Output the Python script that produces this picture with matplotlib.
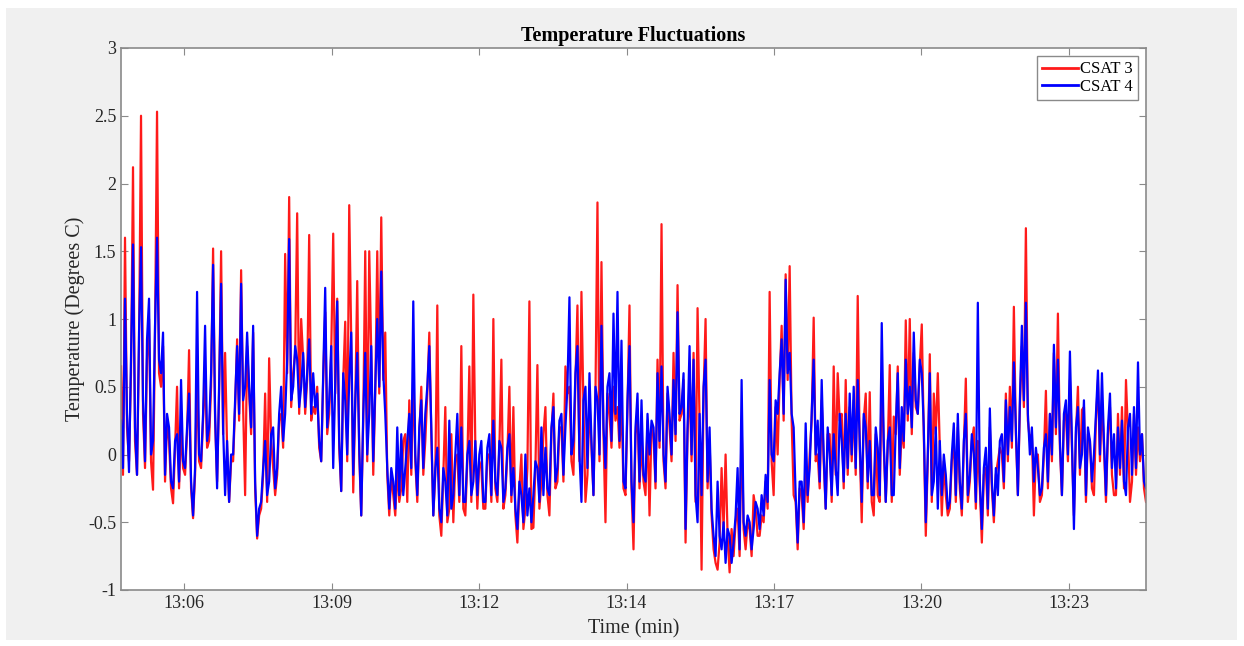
import matplotlib
matplotlib.use("Agg")
from matplotlib import pyplot as plt
import matplotlib.dates as mdates
from matplotlib.patches import Rectangle
import pandas as pd

# temperature fluctuation, one sample every ~2.3 s starting 13:05:12
csat3 = [
    0.65, -0.15, 1.6, 0.2, -0.05, 0.6, 2.12, 0.1, -0.15, 0.8,
    2.5, 0.3, -0.1, 0.7, 1.0, -0.05, -0.26, 0.9, 2.53, 0.6,
    0.5, 0.8, -0.2, 0.25, 0.1, -0.25, -0.36, 0.05, 0.5, -0.25,
    0.2, -0.1, -0.15, 0.15, 0.77, -0.25, -0.47, -0.15, 0.6, -0.05,
    -0.1, 0.25, 0.6, 0.05, 0.1, 0.5, 1.52, 0.25, -0.2, 0.45,
    1.5, 0.15, 0.75, 0.05, -0.35, -0.05, -0.05, 0.35, 0.85, 0.25,
    1.36, 0.35, -0.3, 0.8, 0.45, 0.15, 0.9, -0.25, -0.62, -0.45,
    -0.4, -0.15, 0.45, -0.35, 0.71, 0.1, -0.1, -0.3, -0.15, 0.25,
    0.3, 0.05, 1.48, 0.6, 1.9, 0.35, 0.6, 0.75, 1.78, 0.3,
    1.0, 0.7, 0.3, 0.55, 1.62, 0.25, 0.35, 0.3, 0.5, 0.05,
    -0.05, 0.55, 1.05, 0.15, 0.3, 0.75, 1.63, 0.45, 1.15, 0.05,
    -0.27, 0.55, 0.98, -0.05, 1.84, 0.85, -0.28, 0.35, 1.28, 0.0,
    -0.45, 0.25, 1.5, -0.05, 1.5, 0.75, -0.15, 0.45, 1.5, 0.45,
    1.75, 0.55, 0.9, -0.15, -0.45, -0.15, -0.3, -0.45, -0.1, -0.35,
    -0.25, 0.1, 0.15, -0.35, 0.4, -0.15, 0.6, -0.05, -0.35, 0.15,
    0.5, -0.15, 0.1, 0.45, 0.9, 0.15, -0.45, -0.15, 1.1, -0.45,
    -0.6, -0.15, 0.35, -0.5, -0.4, 0.15, -0.5, -0.05, 0.0, -0.35,
    0.8, -0.4, -0.45, -0.05, 0.65, -0.35, 1.18, 0.05, -0.4, -0.05,
    -0.1, -0.4, -0.4, 0.0, 0.0, -0.35, 1.0, -0.25, -0.35, 0.05,
    0.7, -0.4, -0.3, 0.0, 0.5, -0.35, 0.35, -0.45, -0.65, -0.25,
    0.0, -0.55, -0.4, -0.1, 1.13, -0.55, -0.54, -0.1, 0.66, -0.4,
    -0.2, 0.15, 0.35, -0.3, -0.45, 0.15, 0.45, -0.25, -0.2, 0.2,
    0.2, -0.2, 0.65, 0.45, 0.5, -0.05, -0.15, 0.55, 1.1, -0.05,
    1.2, 0.35, -0.35, -0.15, 0.4, 0.05, -0.3, 0.45, 1.86, -0.05,
    1.42, 0.15, -0.5, 0.45, 0.3, 0.05, 0.5, 0.25, 0.35, 0.05,
    0.4, -0.25, -0.3, 0.35, 1.1, -0.25, -0.7, 0.15, 0.3, -0.25,
    0.1, -0.2, -0.3, 0.25, -0.45, 0.2, 0.15, -0.25, 0.7, 0.05,
    1.7, -0.05, -0.25, 0.45, 0.2, -0.05, 0.75, 0.1, 1.25, 0.25,
    0.3, 0.55, -0.65, 0.15, 0.55, -0.05, 0.75, -0.35, 1.08, 0.25,
    -0.85, 0.45, 1.0, -0.25, 0.1, -0.45, -0.7, -0.8, -0.85, -0.65,
    -0.1, -0.55, 0.0, -0.6, -0.87, -0.55, -0.75, -0.5, -0.4, -0.75,
    0.25, -0.55, -0.7, -0.5, -0.55, -0.75, -0.3, -0.4, -0.6, -0.6,
    -0.45, -0.5, -0.2, -0.4, 1.2, -0.05, -0.3, 0.35, 0.0, 0.55,
    0.95, 0.25, 1.33, 0.55, 1.39, 0.25, -0.3, -0.35, -0.7, -0.25,
    -0.3, -0.55, -0.1, -0.35, 0.0, 0.25, 1.01, -0.05, 0.0, -0.25,
    0.4, -0.05, -0.4, 0.15, 0.15, -0.35, 0.65, -0.15, 0.6, 0.25,
    0.3, -0.25, 0.55, -0.15, 0.35, -0.05, 0.4, -0.15, 1.17, 0.05,
    -0.5, 0.25, 0.45, -0.25, 0.46, -0.35, -0.45, 0.15, -0.3, -0.35,
    0.6, 0.05, -0.35, 0.05, 0.66, -0.35, 0.28, 0.15, 0.65, -0.15,
    0.2, 0.05, 0.99, 0.25, 1.0, 0.15, 0.75, 0.35, 0.3, 0.65,
    0.96, 0.15, -0.6, -0.05, 0.74, -0.35, 0.45, 0.15, 0.6, 0.05,
    -0.45, -0.05, -0.3, -0.45, -0.4, -0.05, 0.1, -0.35, 0.2, -0.25,
    -0.45, 0.05, 0.56, -0.35, -0.2, 0.1, 0.2, -0.4, 0.1, -0.25,
    -0.65, -0.15, -0.1, -0.45, 0.2, -0.25, -0.5, -0.15, -0.05, 0.05,
    0.0, -0.25, 0.45, -0.05, 0.5, 0.05, 1.09, 0.15, -0.3, 0.35,
    0.8, 0.35, 1.67, 0.25, 0.1, 0.15, -0.45, 0.0, 0.0, -0.35,
    -0.3, 0.0, 0.47, -0.25, 0.3, -0.05, 0.75, 0.15, 1.04, 0.05,
    -0.3, 0.25, 0.3, -0.05, 0.55, 0.05, -0.45, 0.15, 0.5, -0.15,
    0.33, 0.35, -0.35, 0.15, 0.1, -0.25, -0.3, 0.25, 0.55, -0.05,
    0.4, 0.05, -0.35, 0.15, 0.35, -0.15, -0.3, -0.3, 0.3, -0.15,
    0.35, -0.25, 0.55, 0.15, -0.35, -0.2, 0.3, -0.15, 0.2, -0.05,
    0.15, -0.25, -0.35,
]
csat4 = [
    0.25, -0.1, 1.15, 0.3, -0.13, 0.7, 1.55, 0.2, -0.15, 0.9,
    1.53, 0.4, -0.05, 0.85, 1.15, 0.0, 0.1, 0.95, 1.6, 0.7,
    0.6, 0.9, -0.15, 0.3, 0.2, -0.2, -0.25, 0.1, 0.15, -0.2,
    0.55, -0.05, -0.1, 0.2, 0.45, -0.2, -0.45, -0.1, 1.2, 0.0,
    -0.05, 0.3, 0.95, 0.1, 0.2, 0.6, 1.4, 0.3, -0.25, 0.5,
    1.26, 0.2, -0.3, 0.1, -0.35, 0.0, 0.0, 0.4, 0.8, 0.3,
    1.26, 0.4, 0.5, 0.9, 0.5, 0.2, 0.95, -0.2, -0.6, -0.4,
    -0.35, -0.1, 0.1, -0.3, -0.2, 0.15, 0.2, -0.25, -0.1, 0.3,
    0.5, 0.1, 0.3, 0.7, 1.59, 0.4, 0.5, 0.8, 0.7, 0.35,
    0.5, 0.75, 0.35, 0.6, 0.85, 0.3, 0.6, 0.35, 0.45, 0.1,
    -0.05, 0.6, 1.23, 0.2, 0.4, 0.8, -0.1, 0.5, 1.13, 0.1,
    -0.27, 0.6, 0.4, 0.0, 0.55, 0.9, -0.15, 0.4, 0.75, 0.05,
    -0.45, 0.3, 0.75, 0.0, 0.3, 0.8, -0.05, 0.5, 1.0, 0.5,
    1.35, 0.6, 0.3, -0.1, -0.4, -0.1, -0.2, -0.4, 0.2, -0.3,
    0.15, -0.3, -0.1, 0.1, 0.3, -0.1, 1.13, 0.0, -0.3, 0.2,
    0.4, -0.1, 0.3, 0.5, 0.8, 0.2, -0.45, -0.1, 0.05, -0.4,
    -0.5, -0.1, -0.2, -0.45, 0.25, -0.4, -0.3, 0.0, 0.3, -0.3,
    0.2, -0.35, -0.35, 0.0, 0.1, -0.3, -0.2, 0.1, -0.3, 0.0,
    0.1, -0.35, -0.35, 0.05, 0.15, -0.3, 0.25, -0.2, -0.3, 0.1,
    0.05, -0.35, -0.25, 0.05, 0.15, -0.3, -0.1, -0.4, -0.55, -0.2,
    -0.3, -0.5, 0.0, -0.45, -0.25, -0.5, -0.3, -0.05, -0.1, -0.35,
    0.2, -0.3, 0.05, -0.25, -0.3, 0.2, 0.35, -0.2, -0.1, 0.25,
    0.3, -0.15, 0.2, 0.5, 1.16, 0.0, 0.1, 0.6, 0.8, 0.0,
    -0.35, 0.4, 0.5, -0.1, 0.6, 0.1, -0.3, 0.5, 0.4, 0.0,
    0.95, 0.2, -0.1, 0.5, 0.6, 0.1, 1.04, 0.3, 1.2, 0.1,
    0.84, -0.2, -0.25, 0.4, 0.8, -0.2, -0.5, 0.2, 0.45, -0.2,
    0.4, -0.15, -0.2, 0.3, 0.0, 0.25, 0.2, -0.2, 0.6, 0.1,
    0.65, 0.0, -0.2, 0.5, 0.3, 0.0, 0.55, 0.15, 1.05, 0.3,
    0.35, 0.6, -0.55, 0.2, 0.8, 0.0, 0.7, -0.3, -0.5, 0.3,
    -0.3, 0.5, 0.7, -0.2, 0.2, -0.4, -0.6, -0.75, -0.2, -0.6,
    -0.7, -0.5, -0.8, -0.55, -0.6, -0.8, -0.65, -0.45, -0.1, -0.7,
    0.55, -0.5, -0.6, -0.45, -0.5, -0.7, -0.55, -0.35, -0.4, -0.55,
    -0.3, -0.45, -0.15, -0.35, 0.55, 0.0, -0.05, 0.4, 0.3, 0.6,
    0.85, 0.3, 1.29, 0.6, 0.75, 0.3, 0.2, -0.3, -0.65, -0.2,
    -0.2, -0.5, 0.23, -0.3, -0.1, 0.3, 0.7, 0.0, 0.25, -0.2,
    0.55, 0.0, -0.4, 0.2, 0.0, -0.3, 0.15, -0.1, -0.3, 0.3,
    0.1, -0.2, 0.3, -0.1, 0.45, 0.0, 0.5, -0.1, 0.55, 0.1,
    -0.35, 0.3, 0.2, -0.2, 0.1, -0.3, -0.3, 0.2, 0.05, -0.3,
    0.97, 0.1, -0.35, 0.1, 0.2, -0.3, -0.3, 0.2, 0.6, -0.1,
    0.35, 0.1, 0.7, 0.3, 0.5, 0.2, 0.9, 0.4, 0.3, 0.7,
    0.6, 0.2, -0.5, 0.0, 0.6, -0.3, -0.2, 0.2, -0.4, 0.1,
    -0.3, 0.0, -0.15, -0.4, -0.35, 0.0, 0.23, -0.3, 0.3, -0.2,
    -0.4, 0.1, 0.3, -0.3, -0.15, 0.15, 0.0, -0.35, 1.12, -0.2,
    -0.55, -0.1, 0.05, -0.4, 0.34, -0.2, -0.45, -0.1, -0.3, 0.1,
    0.15, -0.2, 0.4, 0.0, 0.35, 0.1, 0.68, 0.2, -0.3, 0.4,
    0.95, 0.4, 1.12, 0.3, 0.0, 0.2, -0.2, 0.05, -0.1, -0.3,
    -0.25, 0.05, 0.15, -0.2, 0.3, 0.0, 0.81, 0.2, 0.7, 0.1,
    -0.3, 0.3, 0.4, 0.0, 0.76, 0.1, -0.55, 0.2, 0.35, -0.1,
    0.0, 0.4, -0.3, 0.2, 0.1, -0.2, 0.0, 0.3, 0.62, 0.0,
    0.6, 0.1, -0.3, 0.2, 0.45, -0.1, 0.15, -0.25, 0.2, -0.1,
    0.25, -0.2, -0.3, 0.2, 0.3, -0.15, 0.35, -0.1, 0.68, 0.0,
    0.15, -0.2, -0.25,
]
start = "2016-06-14 13:05:12.2"
step = "2308ms"
tick_times = ["13:06:25", "13:09:15", "13:12:05", "13:14:55",
              "13:17:45", "13:20:35", "13:23:25"]

plt.rcParams["font.family"] = "Liberation Serif"

times = pd.date_range(start, periods=len(csat3), freq=step)
ticks = pd.to_datetime(["2016-06-14 " + t for t in tick_times])

fig = plt.figure(figsize=(12.44, 6.46), dpi=100, facecolor="white")
fig.patches.append(Rectangle((6 / 1244, 6 / 646), 1231 / 1244, 632 / 646,
                             transform=fig.transFigure, facecolor="#f0f0f0",
                             edgecolor="none", zorder=-1))
ax = fig.add_axes([121 / 1244, 56 / 646, 1025 / 1244, 542 / 646])

ax.plot(times, csat3, color="#ff1a1a", lw=1.6, label="CSAT 3")
ax.plot(times, csat4, color="#0000ff", lw=1.6, label="CSAT 4")

ax.set_xlim(times[0], times[-1])
ax.set_ylim(-1, 3)
ax.set_yticks([-1, -0.5, 0, 0.5, 1, 1.5, 2, 2.5, 3])
ax.set_yticklabels(["-1", "-0.5", "0", "0.5", "1", "1.5", "2", "2.5", "3"])
ax.set_xticks(ticks)
ax.xaxis.set_major_formatter(mdates.DateFormatter("%H:%M"))

ax.tick_params(direction="in", length=5, width=0.8, colors="#8a8a8a",
               labelcolor="#262626", labelsize=13, top=True, right=True)
for s in ax.spines.values():
    s.set_color("#8a8a8a")
    s.set_linewidth(1.2)

ax.set_title("Temperature Fluctuations", fontsize=14.5, fontweight="bold", pad=5)
ax.set_xlabel("Time (min)", fontsize=14.5, color="#262626", labelpad=5)
ax.set_ylabel("Temperature (Degrees C)", fontsize=14.5, color="#262626", labelpad=2)

leg = ax.legend(loc="upper right", fontsize=12, handlelength=2.2,
                handletextpad=0.1, borderpad=0.3, labelspacing=0.1,
                fancybox=False, framealpha=1, borderaxespad=0.5)
leg.get_frame().set_edgecolor("#8a8a8a")
for h in leg.get_lines():
    h.set_linewidth(2)

plt.savefig("out.png", dpi=100, facecolor=fig.get_facecolor())
